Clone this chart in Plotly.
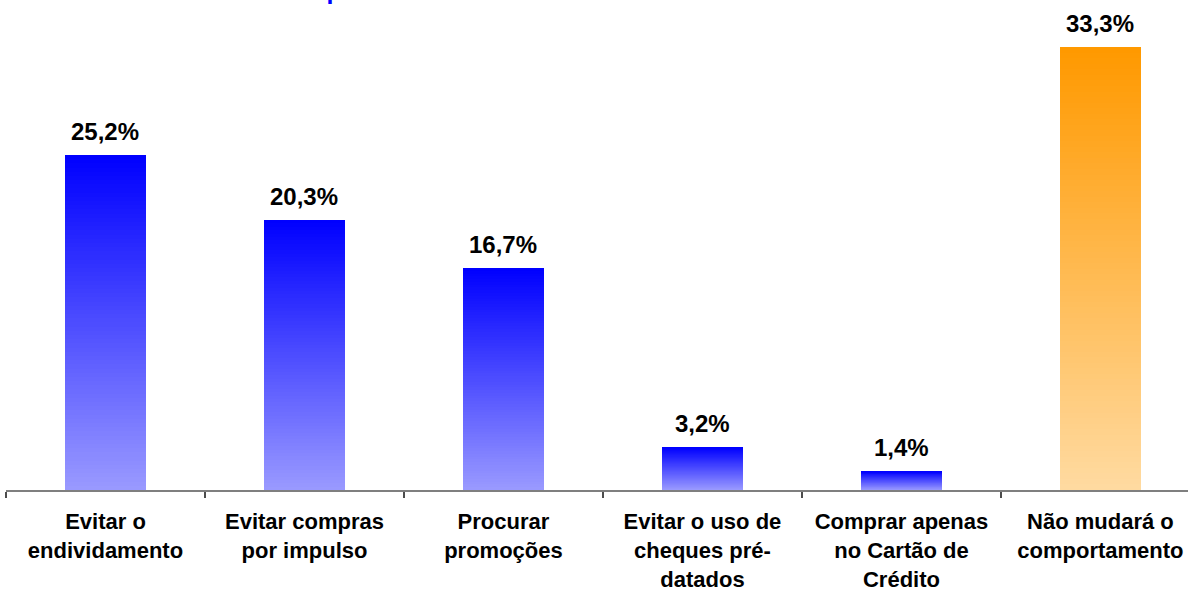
import plotly.graph_objects as go

# Survey answers and their shares (%)
categories = [
    "Evitar o endividamento",
    "Evitar compras por impulso",
    "Procurar promoções",
    "Evitar o uso de cheques pré-datados",
    "Comprar apenas no Cartão de Crédito",
    "Não mudará o comportamento",
]
tick_labels = [
    "Evitar o<br>endividamento",
    "Evitar compras<br>por impulso",
    "Procurar<br>promoções",
    "Evitar o uso de<br>cheques pré-<br>datados",
    "Comprar apenas<br>no Cartão de<br>Crédito",
    "Não mudará o<br>comportamento",
]
values = [25.2, 20.3, 16.7, 3.2, 1.4, 33.3]
value_labels = ["25,2%", "20,3%", "16,7%", "3,2%", "1,4%", "33,3%"]
title_text = "Comportamento diante da Crise Financeira Mundial"

# Gradient end colours: (bottom, top) per bar family
blue_grad = ((153, 153, 255), (0, 0, 255))
orange_grad = ((255, 218, 160), (255, 153, 0))
grads = [blue_grad] * 5 + [orange_grad]

FONT = "Liberation Sans, Arial, sans-serif"
N = 80  # gradient steps per bar


def mix(c0, c1, t):
    return "rgb(%d,%d,%d)" % tuple(round(a + (b - a) * t) for a, b in zip(c0, c1))


fig = go.Figure()
# Each layer starts higher up and reaches to the bar top, painted over the
# previous one, so the bars get a vertical colour gradient without seams.
for k in range(N):
    t = k / (N - 1)
    bases = [v * k / N for v in values]
    heights = [v - b for v, b in zip(values, bases)]
    colors = [mix(g[0], g[1], t) for g in grads]
    fig.add_trace(go.Bar(
        x=categories,
        y=heights,
        base=bases,
        width=0.41,
        marker=dict(color=colors, line=dict(width=0)),
        hoverinfo="skip",
        showlegend=False,
    ))

for cat, v, lab in zip(categories, values, value_labels):
    fig.add_annotation(
        x=cat, y=v, text="<b>%s</b>" % lab, showarrow=False,
        yanchor="bottom", yshift=8,
        font=dict(family=FONT, size=24, color="black"),
    )

# Chart heading, sitting at the very top edge of the page
fig.add_annotation(
    xref="paper", yref="paper", x=0.2225, y=1.0725,
    text="<b>%s</b>" % title_text, showarrow=False,
    xanchor="left", yanchor="middle",
    font=dict(family=FONT, size=25, color="#0000FF"),
)

fig.update_layout(
    width=1188, height=590,
    margin=dict(l=6, r=0, t=24, b=100),
    paper_bgcolor="white", plot_bgcolor="white",
    barmode="overlay",
    bargap=0,
    font=dict(family=FONT),
    xaxis=dict(
        type="category",
        tickvals=categories,
        ticktext=["<b>%s</b>" % s for s in tick_labels],
        tickfont=dict(family=FONT, size=22, color="black"),
        ticklabelstandoff=11,
        automargin=False,
        range=[-0.5, 5.44],
        showline=True, linecolor="rgba(0,0,0,0.5)", linewidth=2,
        ticks="outside", tickson="boundaries", ticklen=6,
        tickcolor="rgba(0,0,0,0.7)", tickwidth=2,
        showgrid=False, zeroline=False,
    ),
    yaxis=dict(
        range=[0, 35.05], visible=False, showgrid=False, zeroline=False,
        automargin=False,
    ),
)

fig.write_html("out.html")
